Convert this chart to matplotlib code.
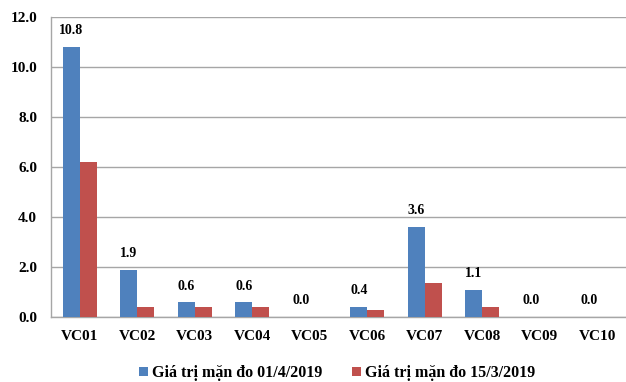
import matplotlib.pyplot as plt
import numpy as np

plt.rcParams['font.family'] = ['Liberation Serif', 'DejaVu Serif']
plt.rcParams['font.weight'] = 'bold'

stations = ['VC01', 'VC02', 'VC03', 'VC04', 'VC05', 'VC06', 'VC07', 'VC08', 'VC09', 'VC10']
salinity_0104 = [10.8, 1.9, 0.6, 0.6, 0.0, 0.4, 3.6, 1.1, 0.0, 0.0]
salinity_1503 = [6.2, 0.4, 0.4, 0.4, 0.0, 0.3, 1.35, 0.4, 0.0, 0.0]
series_names = ['Giá trị mặn đo 01/4/2019', 'Giá trị mặn đo 15/3/2019']

blue = '#4f81bd'
red = '#c0504d'
grid_c = '#a6a6a6'

fig = plt.figure(figsize=(6.26, 3.82), dpi=100)
ax = fig.add_axes([51 / 626, 1 - 317 / 382, 575 / 626, 300 / 382])

x = np.arange(len(stations))
w = 0.295
b1 = ax.bar(x - w / 2, salinity_0104, w, color=blue, label=series_names[0], zorder=3)
b2 = ax.bar(x + w / 2, salinity_1503, w, color=red, label=series_names[1], zorder=3)

# value labels above the 01/4 bars
for xi, v in zip(x, salinity_0104):
    ax.text(xi - w / 2, v + 0.38, f'{v:.1f}', ha='center', va='bottom',
            fontsize=10, fontweight='bold')

ax.set_xlim(-0.5, len(stations) - 0.5)
ax.set_ylim(0, 12)
ax.set_yticks(np.arange(0, 12.1, 2))
ax.set_yticklabels([f'{t:.1f}' for t in np.arange(0, 12.1, 2)])
ax.set_xticks(x)
ax.set_xticklabels(stations)

ax.yaxis.grid(True, color=grid_c, linewidth=1.0, zorder=0)
ax.set_axisbelow(True)
for s in ['top', 'right']:
    ax.spines[s].set_visible(False)
for s in ['left', 'bottom']:
    ax.spines[s].set_color(grid_c)
    ax.spines[s].set_linewidth(1.0)

ax.tick_params(axis='y', length=0, pad=10, labelsize=11)
ax.tick_params(axis='x', length=0, pad=9, labelsize=11)

fig.legend(handles=[b1, b2], loc='center', bbox_to_anchor=(337 / 626, 1 - 373 / 382),
           ncol=2, frameon=False, fontsize=11.5, handlelength=0.55, handleheight=0.55,
           handletextpad=0.25, columnspacing=1.9)

fig.savefig('out.png', dpi=100)
